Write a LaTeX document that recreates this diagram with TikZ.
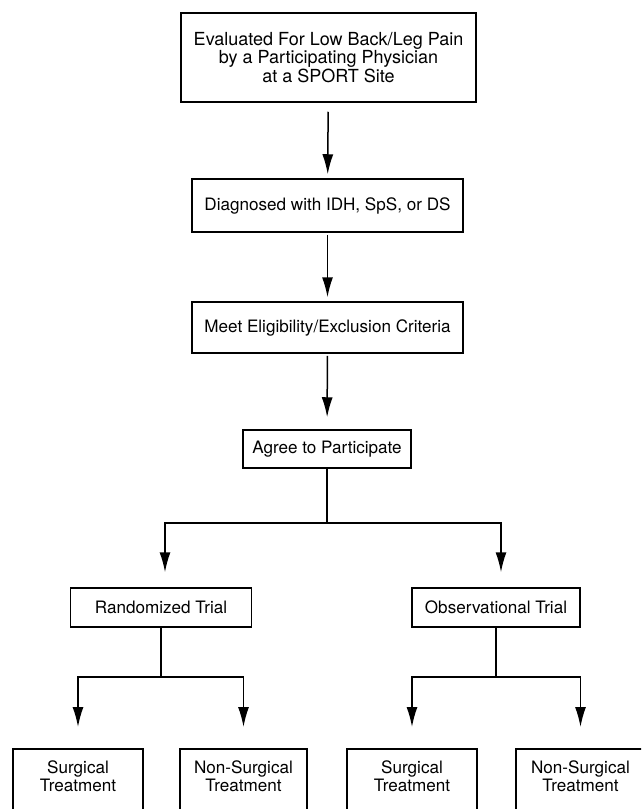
\documentclass[tikz,border=0pt]{standalone}
\usepackage{fontspec}
\setmainfont{TeX Gyre Heros}
\usetikzlibrary{arrows.meta, positioning}

\begin{document}
\begin{tikzpicture}[x=1pt,y=-1pt,>={Latex[length=20pt,width=11pt]},
    box/.style={draw, line width=1.5pt, align=center, inner sep=0pt,
        font=\fontsize{17.1}{18.3}\selectfont},
    leaf/.style={box, anchor=north, text height=42.8pt, text depth=60pt},
    wire/.style={line width=1.5pt}]

    % page
    \useasboundingbox (0,0) rectangle (641,809);
    \clip (0,0) rectangle (641,809);

    % Main column
    \node[box, minimum width=295, minimum height=89,
        font=\fontsize{18}{18.6}\selectfont] (eval) at (328.5,57.5)
        {Evaluated For Low Back/Leg Pain\\by a Participating Physician\\at a SPORT Site};
    \node[box, minimum width=271, minimum height=53] (diag) at (327.5,205.5)
        {Diagnosed with IDH, SpS, or DS};
    \node[box, minimum width=271, minimum height=51] (meet) at (327.5,327.5)
        {Meet Eligibility/Exclusion Criteria};
    \node[box, minimum width=168, minimum height=38] (agree) at (327,449)
        {Agree to Participate};

    % Trials
    \node[box, minimum width=181, minimum height=39] (rand) at (161,607.5)
        {Randomized Trial};
    \node[box, minimum width=168, minimum height=39] (obs) at (496,607.5)
        {Observational Trial};

    % Treatments
    \node[leaf, minimum width=130] (rsurg) at (78,748) {Surgical\\Treatment};
    \node[leaf, minimum width=127] (rnon) at (243.5,748) {Non-Surgical\\Treatment};
    \node[leaf, minimum width=130] (osurg) at (412,748) {Surgical\\Treatment};
    \node[leaf, minimum width=129] (onon) at (580.5,748) {Non-Surgical\\Treatment};

    % Split points
    \coordinate (hub) at (327,523);
    \coordinate (rhub) at (161,677);
    \coordinate (ohub) at (496,677);

    % Arrows
    \draw[->, wire, shorten <=9pt, shorten >=4pt] (eval) -- (diag);
    \draw[->, wire, shorten <=2pt, shorten >=4pt] (diag) -- (meet);
    \draw[->, wire, shorten <=2pt, shorten >=12pt] (meet) -- (agree);

    \draw[wire] (agree.south) -- (hub);
    \draw[->, wire] (hub) -| ([xshift=4pt,yshift=15pt]rand.north);
    \draw[->, wire] (hub) -| ([xshift=5pt,yshift=15pt]obs.north);

    \draw[wire] (rand.south) -- (rhub);
    \draw[->, wire] (rhub) -| ([yshift=21pt]rsurg.north);
    \draw[->, wire] (rhub) -| ([yshift=21pt]rnon.north);

    \draw[wire] (obs.south) -- (ohub);
    \draw[->, wire] (ohub) -| ([yshift=21pt]osurg.north);
    \draw[->, wire] (ohub) -| ([yshift=21pt]onon.north);

\end{tikzpicture}
\end{document}
